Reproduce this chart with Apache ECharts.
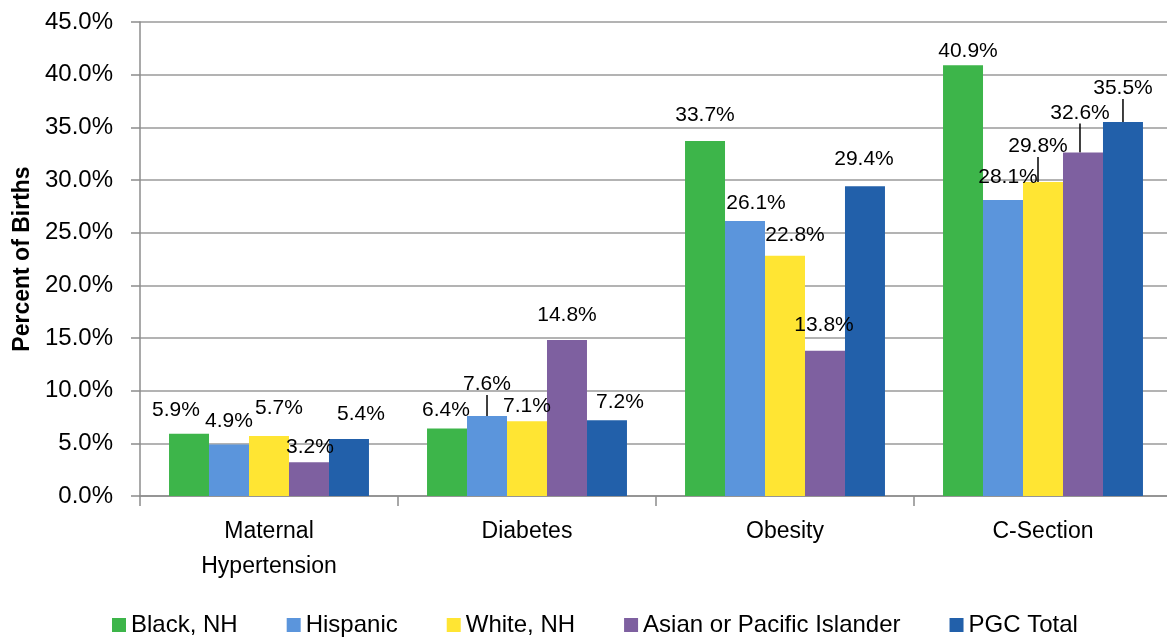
<!DOCTYPE html>
<html>
<head>
<meta charset="utf-8">
<script src="https://cdn.jsdelivr.net/npm/echarts@6/dist/echarts.min.js"></script>
<style>
html,body{margin:0;padding:0;background:#fff;}
#c{width:1167px;height:639px;}
</style>
</head>
<body>
<div id="c"></div>
<script>
// ---- data ----
const categories = ['Maternal\nHypertension', 'Diabetes', 'Obesity', 'C-Section'];
const seriesNames = ['Black, NH', 'Hispanic', 'White, NH', 'Asian or Pacific Islander', 'PGC Total'];
const blackNH = [5.9, 6.4, 33.7, 40.9];
const hispanic = [4.9, 7.6, 26.1, 28.1];
const whiteNH = [5.7, 7.1, 22.8, 29.8];
const asianPI = [3.2, 14.8, 13.8, 32.6];
const pgcTotal = [5.4, 7.2, 29.4, 35.5];
const yTicks = [0, 5, 10, 15, 20, 25, 30, 35, 40, 45];

// ---- layout / style ----
const colors = ['#3db54a', '#5b95dc', '#ffe533', '#7e60a0', '#2260aa'];
const labelShift = [
  [[-13, -8], [-1, -3], [0, -10], [5, 2]],
  [[0, -8], [0, -16], [11, -2], [5, -7]],
  [[10, -12], [0, 0], [10, -5], [-5, -20]],
  [[1, 0], [0, -9], [-1, -10], [-3, -24]],
  [[12, -9], [13, -2], [-1, -12], [0, -18]]
];
const leaderLines = [[], [1], [3], [3], [3]];
const FONT = '"Liberation Sans", Arial, sans-serif';
const allData = [blackNH, hispanic, whiteNH, asianPI, pgcTotal];

const chart = echarts.init(document.getElementById('c'));
chart.setOption({
  animation: false,
  textStyle: { fontFamily: FONT, color: '#000' },
  grid: { left: 140, top: 22, width: 1032, height: 474, outerBoundsMode: 'none', containLabel: false },
  legend: {
    left: 107, top: 608,
    itemWidth: 14, itemHeight: 14, itemGap: 49,
    icon: 'rect',
    textStyle: { fontSize: 24, fontFamily: FONT, color: '#000' },
    data: seriesNames
  },
  xAxis: {
    type: 'category',
    data: categories,
    axisLine: { lineStyle: { color: '#8c8c8c', width: 1.5 } },
    axisTick: { show: true, length: 10, interval: 0, lineStyle: { color: '#8c8c8c', width: 1.5 } },
    axisLabel: { fontSize: 23, lineHeight: 35, margin: 18, color: '#000', fontFamily: FONT, interval: 0 }
  },
  yAxis: {
    type: 'value',
    min: yTicks[0], max: yTicks[yTicks.length - 1], interval: 5,
    name: 'Percent of Births',
    nameLocation: 'middle',
    nameGap: 105,
    nameRotate: 90,
    nameTextStyle: { fontSize: 23, fontWeight: 'bold', color: '#000', fontFamily: FONT },
    axisLine: { show: true, lineStyle: { color: '#8c8c8c', width: 1.5 } },
    axisTick: { show: true, length: 9, lineStyle: { color: '#8c8c8c', width: 1.5 } },
    axisLabel: { fontSize: 24, margin: 27, color: '#000', fontFamily: FONT,
      formatter: v => v.toFixed(1) + '%' },
    splitLine: { show: true, lineStyle: { color: '#9a9a9a', width: 1.5 } }
  },
  series: allData.map((arr, si) => ({
    name: seriesNames[si],
    type: 'bar',
    barGap: '0%',
    barCategoryGap: '22.5%',
    itemStyle: { color: colors[si] },
    label: {
      show: true, position: 'top', distance: 5,
      fontSize: 21, color: '#000', fontFamily: FONT,
      formatter: p => p.value.toFixed(1) + '%'
    },
    labelLine: { show: false, lineStyle: { color: '#000', width: 1.5 } },
    labelLayout: p => ({ dx: labelShift[si][p.dataIndex][0], dy: labelShift[si][p.dataIndex][1] }),
    data: arr.map((v, i) => leaderLines[si].indexOf(i) >= 0
      ? { value: v, labelLine: { show: true, smooth: false, length2: 0, lineStyle: { color: '#000', width: 1.5 } } }
      : v)
  }))
});
</script>
</body>
</html>
